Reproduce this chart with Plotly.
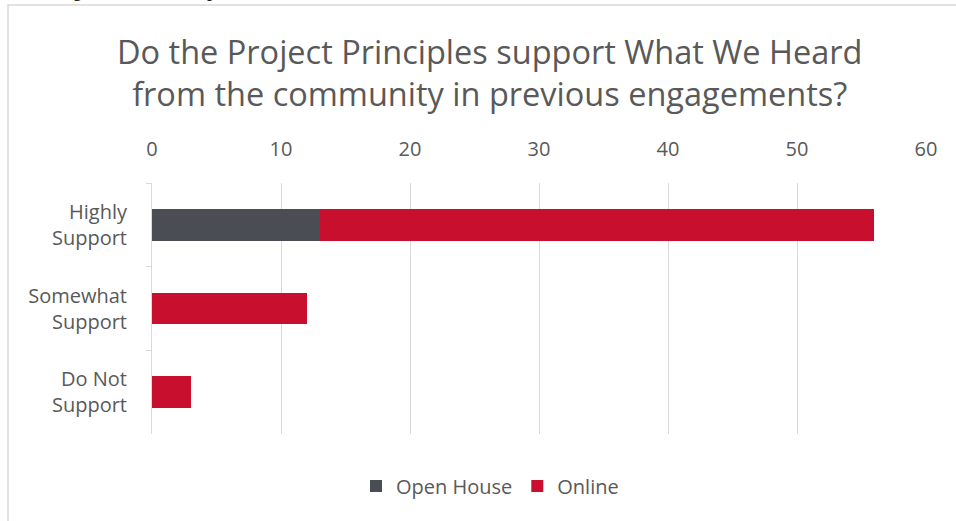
import plotly.graph_objects as go

categories = ["Highly<br>Support", "Somewhat<br>Support", "Do Not<br>Support"]
open_house = [13, 0, 0]
online = [43, 12, 3]
x_ticks = [0, 10, 20, 30, 40, 50, 60]

W, H = 956, 521
L, R, T, B = 152, 30, 183, 87
pw, ph = W - L - R, H - T - B

def px(x):
    return (x - L) / pw

def py(y):
    return 1 - (y - T) / ph

fig = go.Figure()
fig.add_trace(go.Bar(y=categories, x=open_house, name="Open House", orientation="h",
                     marker=dict(color="#4A4D53", line=dict(width=0))))
fig.add_trace(go.Bar(y=categories, x=online, name="Online", orientation="h",
                     marker=dict(color="#C8102E", line=dict(width=0))))

font = "Open Sans, Noto Sans, sans-serif"
fig.update_layout(
    width=W, height=H, barmode="stack", bargap=0.62,
    margin=dict(l=L, r=R, t=T, b=B, autoexpand=False),
    paper_bgcolor="white", plot_bgcolor="white",
    font=dict(family=font, color="#595959", size=20),
    showlegend=True,
    legend=dict(orientation="h", x=px(490), xanchor="center", y=py(486), yanchor="middle",
                font=dict(size=20, color="#595959"), traceorder="normal"),
    xaxis=dict(side="top", range=[0, 60], tickvals=x_ticks, showgrid=True,
               gridcolor="#D9D9D9", gridwidth=1, zeroline=False, showline=False,
               ticks="outside", ticklen=18, tickcolor="rgba(0,0,0,0)", automargin=False,
               tickfont=dict(size=20, color="#595959"), fixedrange=True),
    yaxis=dict(autorange="reversed", showline=True, linecolor="#D9D9D9", linewidth=1,
               ticks="outside", tickson="boundaries", ticklen=5, tickcolor="#D9D9D9",
               ticklabelstandoff=20, automargin=False,
               tickfont=dict(size=20, color="#595959"), showgrid=False),
)

fig.add_annotation(text="Do the Project Principles support What We Heard<br>from the community in previous engagements?",
                   xref="paper", yref="paper", x=px(489), y=py(73), xanchor="center", yanchor="middle",
                   showarrow=False, font=dict(size=32.5, color="#595959", family=font))

fig.add_annotation(text="<b>Project Principles</b>", xref="paper", yref="paper",
                   x=px(30), y=py(5), xanchor="left", yanchor="bottom", showarrow=False,
                   font=dict(size=26, color="#262626", family=font))

fig.add_shape(type="rect", xref="paper", yref="paper", x0=px(8), x1=px(1000), y0=py(600), y1=py(5),
              line=dict(color="#D9D9D9", width=1.5), fillcolor="rgba(0,0,0,0)", layer="below")

fig.write_html("out.html", config={"displayModeBar": False},
               post_script="document.body.style.margin='0';document.body.style.padding='0';")
